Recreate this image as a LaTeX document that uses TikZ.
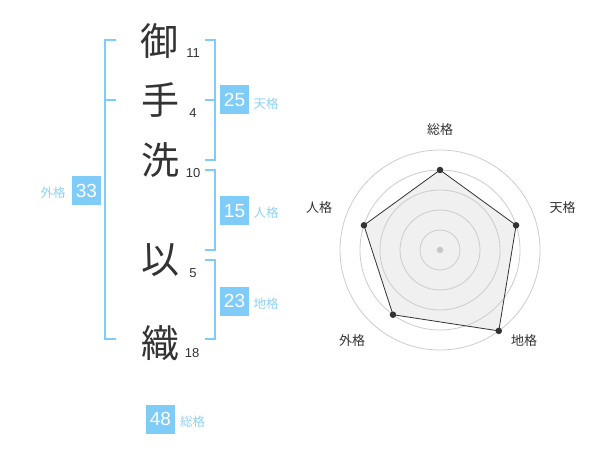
\documentclass[tikz,border=0pt]{standalone}
\usepackage{fontspec}
\usetikzlibrary{calc}
\setmainfont{Liberation Sans}
\newfontfamily\cjk{Noto Sans CJK JP}
\definecolor{kakublue}{HTML}{80CCF8}
\definecolor{labelblue}{HTML}{8FD2F8}
\definecolor{ink}{HTML}{333333}
\definecolor{ringgray}{HTML}{CCCCCC}
\tikzset{
  kanji/.style={inner sep=0pt,text=ink,font=\cjk\fontsize{38bp}{38bp}\selectfont},
  stroke/.style={inner sep=0pt,text=ink,font=\fontsize{13bp}{13bp}\selectfont},
  kaku/.style={fill=kakublue,text=white,minimum width=29bp,minimum height=29bp,inner sep=0pt,font=\fontsize{19bp}{19bp}\selectfont},
  kakulabel/.style={inner sep=0pt,text=labelblue,font=\cjk\fontsize{12.5bp}{12.5bp}\selectfont},
  bracket/.style={draw=kakublue,line width=2bp},
  axislabel/.style={inner sep=0pt,text=ink,font=\cjk\fontsize{13bp}{13bp}\selectfont},
  dot/.style={circle,fill=ink,inner sep=0pt,minimum size=6.5bp}
}
\begin{document}
\begin{tikzpicture}[x=1bp,y=-1bp]
\useasboundingbox[fill=white] (0,0) rectangle (600,470);

% name characters and strokes
\node[kanji] (c1) at (159,41) {御};
\node[kanji] (c2) at (160,100) {手};
\node[kanji] (c3) at (160,160) {洗};
\node[kanji] (c4) at (160,260) {以};
\node[kanji] (c5) at (160,343) {織};

\node[stroke] (n1) at (193,52.7) {11};
\node[stroke] (n2) at (193,113.3) {4};
\node[stroke] (n3) at (193,172.7) {10};
\node[stroke] (n4) at (193,272.7) {5};
\node[stroke] (n5) at (192,352.7) {18};

% brackets
\draw[bracket] (116,40) -- (105,40) -- (105,339) -- (116,339);
\draw[bracket] (105,100) -- (116,100);
\draw[bracket] (205,40) -- (214.5,40) -- (214.5,160) -- (205,160);
\draw[bracket] (205,100) -- (214.5,100);
\draw[bracket] (205,170) -- (214.5,170) -- (214.5,250) -- (205,250);
\draw[bracket] (205,260) -- (214.5,260) -- (214.5,339) -- (205,339);

% kaku boxes
\node[kaku] (ten) at (234.5,100) {25};
\node[kakulabel] (tenl) at (266,104) {天格};
\node[kaku] (jin) at (234.5,211) {15};
\node[kakulabel] (jinl) at (266,213) {人格};
\node[kaku] (chi) at (234.5,301) {23};
\node[kakulabel] (chil) at (266,304) {地格};
\node[kaku] (gai) at (86.5,190.5) {33};
\node[kakulabel] (gail) at (53,193) {外格};
\node[kaku] (sou) at (160.5,419) {48};
\node[kakulabel] (soul) at (192.5,422) {総格};

% radar chart
\coordinate (c) at (440,250);
\fill[black!6] ($(c)+(-90:80)$) coordinate (psou) -- ($(c)+(-18:80)$) coordinate (pten)
  -- ($(c)+(54:100)$) coordinate (pchi) -- ($(c)+(126:80)$) coordinate (pgai)
  -- ($(c)+(198:80)$) coordinate (pjin) -- cycle;
\foreach \r in {20,40,...,100}
  \draw[ringgray,line width=0.8bp] (c) circle[radius=\r];
\draw[ink,line width=0.8bp] (psou) -- (pten) -- (pchi) -- (pgai) -- (pjin) -- cycle;
\foreach \p in {psou,pten,pchi,pgai,pjin}
  \node[dot] at (\p) {};
\node[circle,fill=black!22,inner sep=0pt,minimum size=6.5bp] at (c) {};

\node[axislabel] (asou) at (440,130) {総格};
\node[axislabel] (aten) at (562.5,208) {天格};
\node[axislabel] (achi) at (524,341) {地格};
\node[axislabel] (agai) at (352,341) {外格};
\node[axislabel] (ajin) at (319,208) {人格};
\end{tikzpicture}
\end{document}
